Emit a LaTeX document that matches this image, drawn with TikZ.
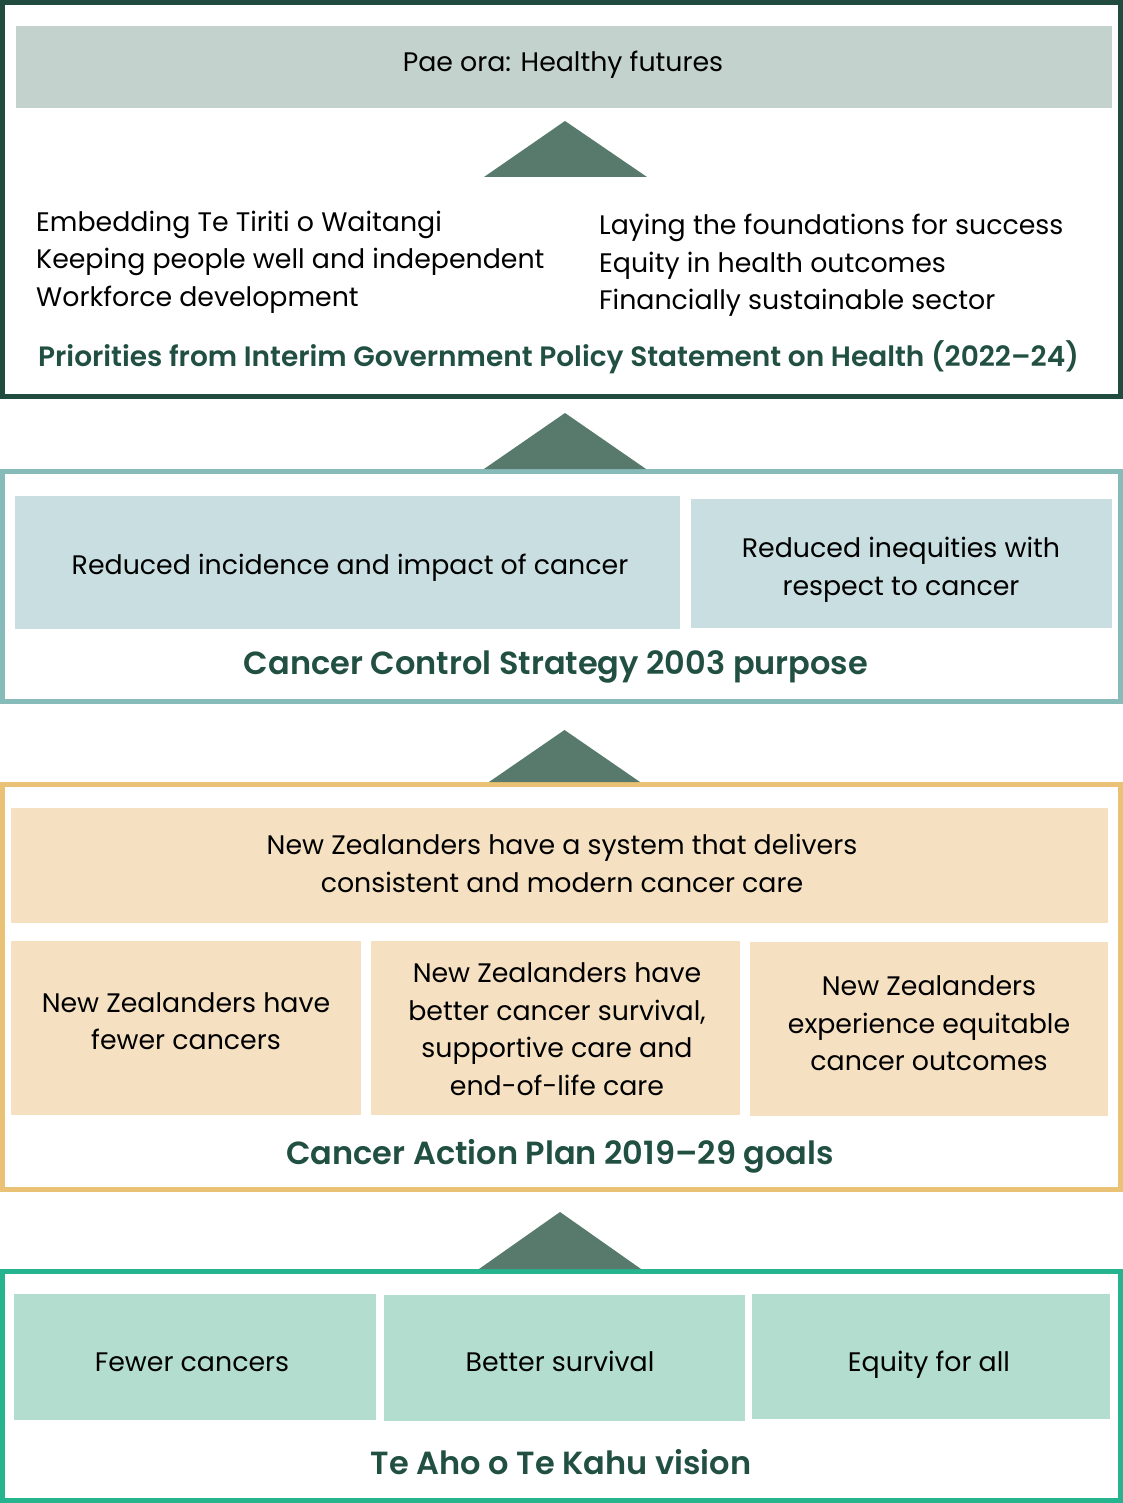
\documentclass[tikz,border=0pt]{standalone}
\usepackage{fontspec}
\setmainfont{Poppins}
\IfFontExistsTF{Poppins SemiBold}{\newfontfamily\semib{Poppins SemiBold}}{\newcommand\semib{\bfseries}}
\definecolor{fOne}{HTML}{214B3F}
\definecolor{fTwo}{HTML}{86BBBA}
\definecolor{fThree}{HTML}{E9C276}
\definecolor{fFour}{HTML}{26B48F}
\definecolor{bOne}{HTML}{C3D2CD}
\definecolor{bTwo}{HTML}{C8DEE0}
\definecolor{bThree}{HTML}{F5E1C2}
\definecolor{bFour}{HTML}{B3DECF}
\definecolor{triC}{HTML}{587A6D}
\definecolor{ttlC}{HTML}{215043}
\begin{document}
\begin{tikzpicture}[x=1pt,y=-1pt,
  frame/.style={draw, line width=5pt, minimum width=1118pt, inner sep=0pt},
  box/.style={inner sep=0pt, draw=none},
  txt/.style={inner sep=0pt, font=\fontsize{26.8}{37.5}\selectfont, align=center, text=black},
  lst/.style={inner sep=0pt, font=\fontsize{26.8}{37.5}\selectfont, align=left, text=black, anchor=base west},
  ttlA/.style={inner sep=0pt, font=\semib\fontsize{28}{34}\selectfont, text=ttlC},
  ttlB/.style={inner sep=0pt, font=\semib\fontsize{32}{38}\selectfont, text=ttlC},
  tri/.style={fill=triC, draw=none}]
\useasboundingbox (0,0) rectangle (1123,1503);
\fill[white] (0,0) rectangle (1123,1503);

% frames
\node[frame, draw=fOne, minimum height=394pt] (f1) at (561.5,199.5) {};
\node[frame, draw=fTwo, minimum height=230pt] (f2) at (561.5,586.5) {};
\node[frame, draw=fThree, minimum height=405pt] (f3) at (561.5,987) {};
\node[frame, draw=fFour, minimum height=229pt] (f4) at (561.5,1386) {};

% triangles
\coordinate (t1a) at (565,121); \coordinate (t1l) at (484,177); \coordinate (t1r) at (647,177);
\coordinate (t2a) at (565,413); \coordinate (t2l) at (484,469); \coordinate (t2r) at (646,469);
\coordinate (t3a) at (564.5,730); \coordinate (t3l) at (489,782); \coordinate (t3r) at (640,782);
\coordinate (t4a) at (560,1212); \coordinate (t4l) at (479,1269); \coordinate (t4r) at (641,1269);
\fill[tri] (t1l) -- (t1a) -- (t1r) -- cycle;
\fill[tri] (t2l) -- (t2a) -- (t2r) -- cycle;
\fill[tri] (t3l) -- (t3a) -- (t3r) -- cycle;
\fill[tri] (t4l) -- (t4a) -- (t4r) -- cycle;

% frame 1
\node[box, fill=bOne, minimum width=1096pt, minimum height=82pt] (pae) at (564,67) {};
\node[txt] (paet) at (563,65) {Pae ora: Healthy futures};
\node[lst] (left) at (36,306.5) {Embedding Te Tiriti o Waitangi\\Keeping people well and independent\\Workforce development};
\node[lst] (right) at (599,309.5) {Laying the foundations for success\\Equity in health outcomes\\Financially sustainable sector};
\node[ttlA] (t1) at (558.5,357) {Priorities from Interim Government Policy Statement on Health (2022–24)};

% frame 2
\node[box, fill=bTwo, minimum width=665pt, minimum height=133pt] (ba) at (347.5,562.5) {};
\node[box, fill=bTwo, minimum width=421pt, minimum height=129pt] (bb) at (901.5,563.5) {};
\node[txt] (bat) at (350,568) {Reduced incidence and impact of cancer};
\node[txt] (bbt) at (901,570) {Reduced inequities with\\respect to cancer};
\node[ttlB] (t2) at (556,667) {Cancer Control Strategy 2003 purpose};

% frame 3
\node[box, fill=bThree, minimum width=1097pt, minimum height=115pt] (bc) at (559.5,865.5) {};
\node[box, fill=bThree, minimum width=350pt, minimum height=174pt] (bd1) at (186,1028) {};
\node[box, fill=bThree, minimum width=369pt, minimum height=174pt] (bd2) at (555.5,1028) {};
\node[box, fill=bThree, minimum width=358pt, minimum height=174pt] (bd3) at (929,1029) {};
\node[txt] (bct) at (562,863.5) {New Zealanders have a system that delivers\\consistent and modern cancer care};
\node[txt] (bd1t) at (186,1021) {New Zealanders have\\fewer cancers};
\node[txt] (bd2t) at (557,1029) {New Zealanders have\\better cancer survival,\\supportive care and\\end-of-life care};
\node[txt] (bd3t) at (929,1023.5) {New Zealanders\\experience equitable\\cancer outcomes};
\node[ttlB] (t3) at (560,1156) {Cancer Action Plan 2019–29 goals};

% frame 4
\node[box, fill=bFour, minimum width=362pt, minimum height=126pt] (be1) at (195,1357) {};
\node[box, fill=bFour, minimum width=361pt, minimum height=126pt] (be2) at (564.5,1358) {};
\node[box, fill=bFour, minimum width=358pt, minimum height=125pt] (be3) at (931,1356.5) {};
\node[txt] (be1t) at (192,1362) {Fewer cancers};
\node[txt] (be2t) at (560,1361) {Better survival};
\node[txt] (be3t) at (929,1365) {Equity for all};
\node[ttlB] (t4) at (561,1462) {Te Aho o Te Kahu vision};
\end{tikzpicture}
\end{document}
